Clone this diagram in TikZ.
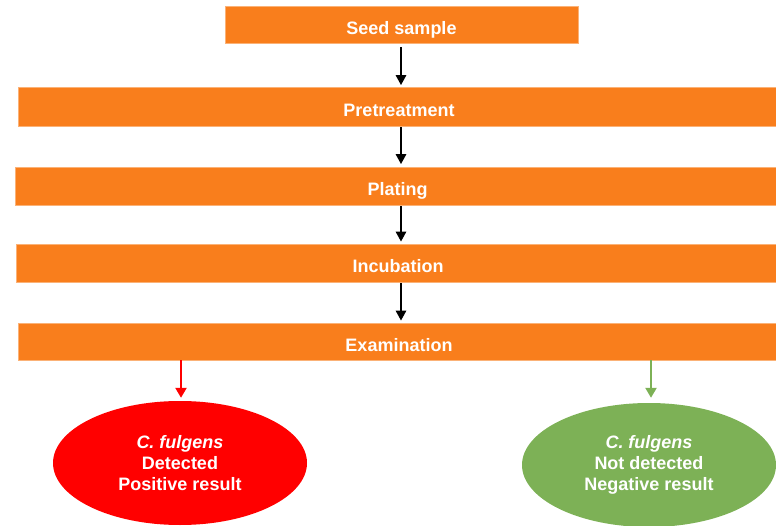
\documentclass[tikz,border=0pt]{standalone}
\usepackage{fontspec}
\setmainfont{Liberation Sans}
\usetikzlibrary{arrows.meta,shapes.geometric}
\definecolor{boxorange}{HTML}{F97E1C}
\definecolor{resgreen}{HTML}{7DB156}
\definecolor{resred}{HTML}{FF0000}
\begin{document}
\begin{tikzpicture}[x=1pt,y=-1pt,
  stepbox/.style={fill=boxorange,draw=boxorange!60!white,line width=0.6pt,inner sep=0pt,
    text height=20pt,text depth=0pt,
    font=\fontsize{18}{21}\selectfont\bfseries,text=white},
  resnode/.style={ellipse,inner sep=0pt,text=white,align=center,
    font=\fontsize{18}{21}\selectfont\bfseries},
  flow/.style={line width=2.6pt,-{Triangle[length=10pt,width=10pt]}},
  resflow/.style={line width=2.3pt,-{Triangle[length=10pt,width=11pt]}}]
\useasboundingbox (0,0) rectangle (776,526);
\begin{scope}
\clip (0,0) rectangle (776,526);
\node[stepbox,minimum width=353pt,minimum height=37pt] (seed) at (401.5,24.5) {Seed sample};
\node[stepbox,minimum width=762pt,minimum height=39pt] (pre) at (399,106.5) {Pretreatment};
\node[stepbox,minimum width=765pt,minimum height=38pt] (plat) at (397.5,186) {Plating};
\node[stepbox,minimum width=764pt,minimum height=38pt] (inc) at (398,263) {Incubation};
\node[stepbox,minimum width=762pt,minimum height=37pt] (exam) at (399,341.5) {Examination};
\node[resnode,fill=resred,minimum width=254pt,minimum height=124pt] (pos) at (180,463)
  {\itshape C. fulgens\\Detected\\Positive result};
\node[resnode,fill=resgreen,minimum width=254pt,minimum height=124pt] (neg) at (649,465)
  {\itshape C. fulgens\\Not detected\\Negative result};
\end{scope}
\coordinate (axis) at (401,0);
\coordinate (posx) at (181,0);
\coordinate (negx) at (651,0);
\draw[flow] ([yshift=-4pt]seed.south -| axis) -- ([yshift=1.5pt]pre.north -| axis);
\draw[flow] ([yshift=-1pt]pre.south -| axis) -- ([yshift=2.5pt]plat.north -| axis);
\draw[flow] ([yshift=-1pt]plat.south -| axis) -- ([yshift=2pt]inc.north -| axis);
\draw[flow] ([yshift=-1pt]inc.south -| axis) -- ([yshift=2pt]exam.north -| axis);
\draw[resflow,draw=resred] (exam.south -| posx) -- ([yshift=3pt]pos.north -| posx);
\draw[resflow,draw=resgreen] (exam.south -| negx) -- ([yshift=5pt]neg.north -| negx);
\end{tikzpicture}
\end{document}
